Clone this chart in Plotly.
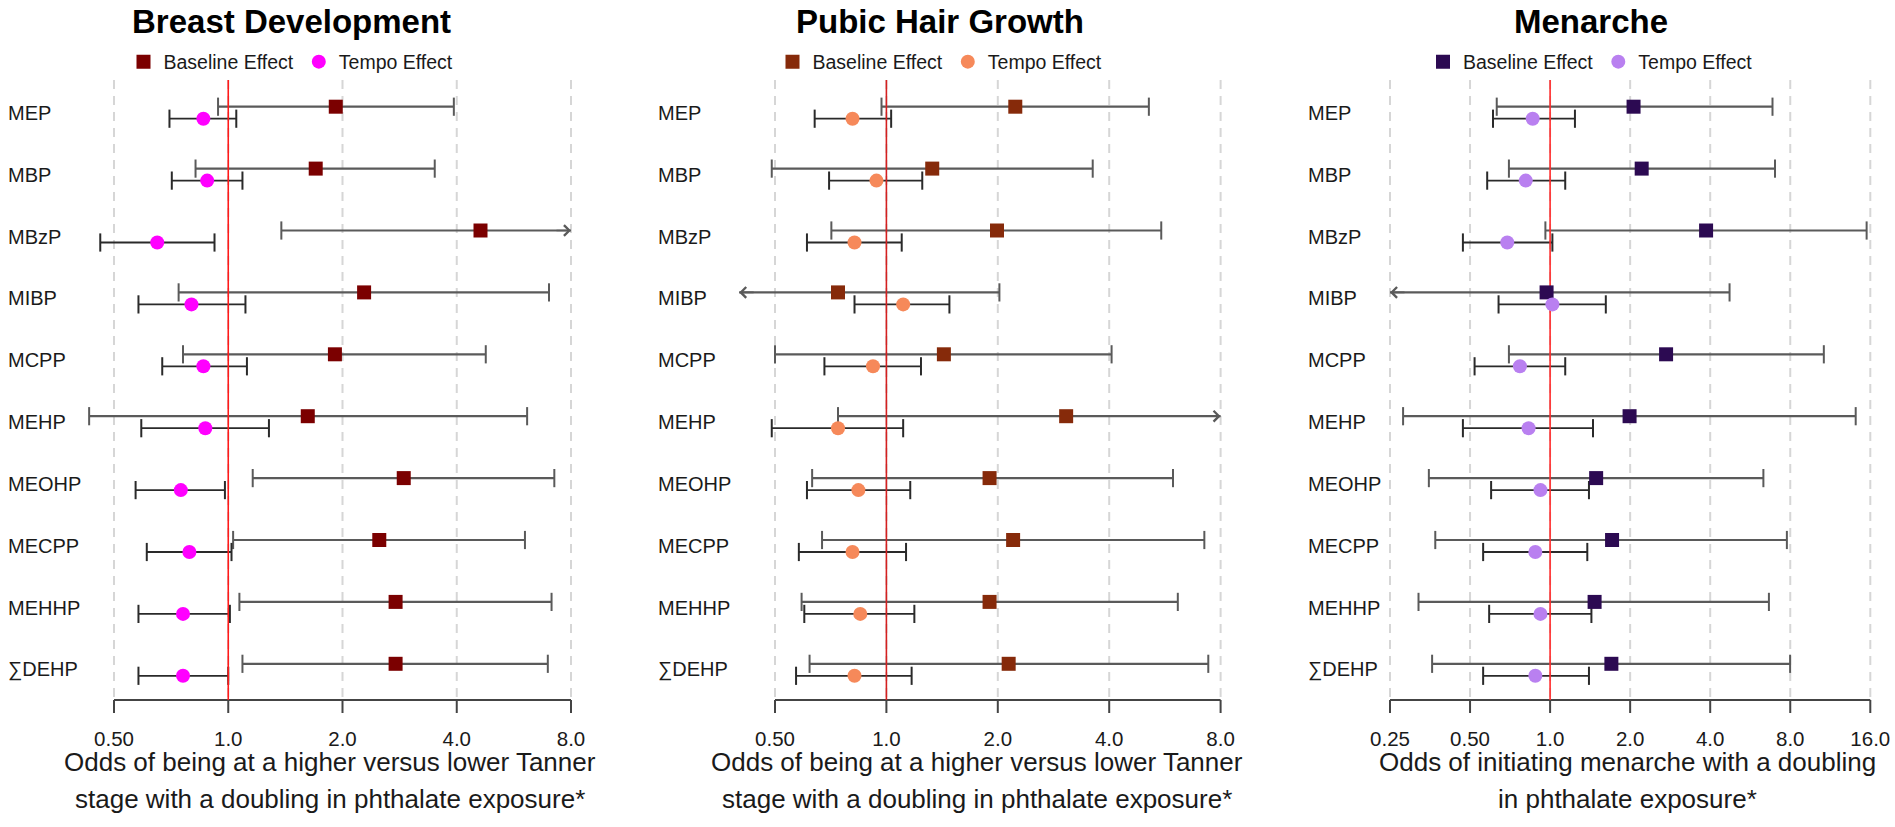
import math
import plotly.graph_objects as go

# ---------------- data ----------------
exposures = ["MEP", "MBP", "MBzP", "MIBP", "MCPP", "MEHP", "MEOHP", "MECPP", "MEHHP", "∑DEHP"]

# Breast development
breast_base_or = [1.92, 1.70, 4.62, 2.28, 1.91, 1.62, 2.90, 2.50, 2.76, 2.76]
breast_base_lo = [0.94, 0.82, 1.38, 0.74, 0.76, 0.43, 1.16, 1.03, 1.07, 1.09]
breast_base_hi = [3.93, 3.50, 9.50, 7.00, 4.77, 6.13, 7.23, 6.05, 7.11, 6.95]
breast_tempo_or = [0.86, 0.88, 0.65, 0.80, 0.86, 0.87, 0.75, 0.79, 0.76, 0.76]
breast_tempo_lo = [0.70, 0.71, 0.46, 0.58, 0.67, 0.59, 0.57, 0.61, 0.58, 0.58]
breast_tempo_hi = [1.05, 1.09, 0.92, 1.11, 1.12, 1.28, 0.98, 1.02, 1.01, 1.00]

# Pubic hair growth
pubic_base_or = [2.23, 1.33, 1.99, 0.74, 1.43, 3.06, 1.90, 2.20, 1.90, 2.14]
pubic_base_lo = [0.97, 0.49, 0.71, 0.35, 0.50, 0.74, 0.63, 0.67, 0.59, 0.62]
pubic_base_hi = [5.12, 3.61, 5.53, 2.02, 4.06, 9.00, 5.95, 7.23, 6.13, 7.41]
pubic_tempo_or = [0.81, 0.94, 0.82, 1.11, 0.92, 0.74, 0.84, 0.81, 0.85, 0.82]
pubic_tempo_lo = [0.64, 0.70, 0.61, 0.82, 0.68, 0.49, 0.61, 0.58, 0.60, 0.57]
pubic_tempo_hi = [1.03, 1.25, 1.10, 1.48, 1.24, 1.11, 1.16, 1.13, 1.19, 1.17]

# Menarche
men_base_or = [2.06, 2.21, 3.86, 0.97, 2.73, 1.99, 1.49, 1.71, 1.47, 1.70]
men_base_lo = [0.63, 0.70, 0.96, 0.20, 0.70, 0.28, 0.35, 0.37, 0.32, 0.36]
men_base_hi = [6.86, 7.01, 15.5, 4.73, 10.7, 14.1, 6.34, 7.77, 6.65, 7.99]
men_tempo_or = [0.86, 0.81, 0.69, 1.02, 0.77, 0.83, 0.92, 0.88, 0.92, 0.88]
men_tempo_lo = [0.61, 0.58, 0.47, 0.64, 0.52, 0.47, 0.60, 0.56, 0.59, 0.56]
men_tempo_hi = [1.24, 1.14, 1.02, 1.62, 1.14, 1.45, 1.40, 1.38, 1.43, 1.40]

tanner_ticks = [0.5, 1.0, 2.0, 4.0, 8.0]
tanner_ticktext = ["0.50", "1.0", "2.0", "4.0", "8.0"]
men_ticks = [0.25, 0.5, 1.0, 2.0, 4.0, 8.0, 16.0]
men_ticktext = ["0.25", "0.50", "1.0", "2.0", "4.0", "8.0", "16.0"]

ref_value = 1.0
legend_names = ["Baseline Effect", "Tempo Effect"]

# ---------------- layout helpers ----------------
W, H = 1895, 827
FONT = "Liberation Sans, Arial, sans-serif"
ROW0_PX, ROW_STEP = 112.7, 61.9
OFF = 6.0 / ROW_STEP
DOM_TOP_PX, DOM_BOT_PX = 78, 716
AXIS_PX, TICK_PX, GRID_TOP_PX = 700, 713, 80


def yval(p):
    return (p - ROW0_PX) / ROW_STEP


def py(p):
    return 1 - p / H


panels = [
    dict(title="Breast Development",
         base=(breast_base_or, breast_base_lo, breast_base_hi),
         tempo=(breast_tempo_or, breast_tempo_lo, breast_tempo_hi),
         c_base="#7b0000", c_tempo="#ff00ff", c_ref="#ff1a1a",
         ticks=tanner_ticks, ticktext=tanner_ticktext,
         first_px=114.0, last_px=571.0, pad=(45, 40), clip=(0.40, 8.0),
         label_px=5.7, center_px=291, xt_px=330,
         xtitle=["Odds of being at a higher versus lower Tanner",
                 "stage with a doubling in phthalate exposure*"]),
    dict(title="Pubic Hair Growth",
         base=(pubic_base_or, pubic_base_lo, pubic_base_hi),
         tempo=(pubic_tempo_or, pubic_tempo_lo, pubic_tempo_hi),
         c_base="#862a0a", c_tempo="#f6895a", c_ref="#d42020",
         ticks=tanner_ticks, ticktext=tanner_ticktext,
         first_px=775.0, last_px=1220.6, pad=(45, 40), clip=(0.40, 8.0),
         label_px=655.6, center_px=940, xt_px=977,
         xtitle=["Odds of being at a higher versus lower Tanner",
                 "stage with a doubling in phthalate exposure*"]),
    dict(title="Menarche",
         base=(men_base_or, men_base_lo, men_base_hi),
         tempo=(men_tempo_or, men_tempo_lo, men_tempo_hi),
         c_base="#2c0a52", c_tempo="#b980f0", c_ref="#ff2a2a",
         ticks=men_ticks, ticktext=men_ticktext,
         first_px=1390.0, last_px=1870.3, pad=(40, 20), clip=(0.25, 16.0),
         label_px=1306, center_px=1590.5, xt_px=1627,
         xtitle=["Odds of initiating menarche with a doubling",
                 "in phthalate exposure*"]),
]

fig = go.Figure()
annotations = []
layout = dict(
    width=W, height=H, margin=dict(l=0, r=0, t=0, b=0),
    paper_bgcolor="white", plot_bgcolor="white",
    font=dict(family=FONT, color="#1a1a1a"),
    showlegend=True,
)

rows = list(range(len(exposures)))
Y_AXIS, Y_TICK, Y_TOP = yval(AXIS_PX), yval(TICK_PX), yval(GRID_TOP_PX)

for n, p in enumerate(panels, start=1):
    sfx = "" if n == 1 else str(n)
    xa, ya = "x" + sfx, "y" + sfx
    t0, t1 = p["ticks"][0], p["ticks"][-1]
    l0, l1 = math.log10(t0), math.log10(t1)
    ppu = (p["last_px"] - p["first_px"]) / (l1 - l0)
    pl, pr = p["pad"]
    dom_l, dom_r = p["first_px"] - pl, p["last_px"] + pr
    layout["xaxis" + sfx] = dict(
        type="log", domain=[dom_l / W, min(dom_r / W, 1.0)],
        range=[l0 - pl / ppu, l1 + pr / ppu], anchor=ya,
        tickvals=p["ticks"], ticktext=p["ticktext"], ticks="",
        showgrid=False, zeroline=False, showline=False,
        tickfont=dict(size=20.5, color="#1a1a1a", family=FONT),
        ticklabelstandoff=8,
    )
    layout["yaxis" + sfx] = dict(
        domain=[py(DOM_BOT_PX), py(DOM_TOP_PX)], anchor=xa,
        range=[yval(DOM_BOT_PX), yval(DOM_TOP_PX)],
        showgrid=False, zeroline=False, showline=False,
        showticklabels=False, ticks="",
    )

    # grid lines
    gx, gy = [], []
    for t in p["ticks"]:
        gx += [t, t, None]
        gy += [Y_TOP, Y_AXIS, None]
    fig.add_trace(go.Scatter(x=gx, y=gy, mode="lines", xaxis=xa, yaxis=ya,
                             line=dict(color="#d6d6d6", width=2, dash="9px,7px"),
                             showlegend=False, hoverinfo="skip"))
    # axis line and ticks
    fig.add_trace(go.Scatter(x=[t0, t1], y=[Y_AXIS, Y_AXIS], mode="lines",
                             xaxis=xa, yaxis=ya, line=dict(color="#444444", width=2),
                             showlegend=False, hoverinfo="skip"))
    tx, ty = [], []
    for t in p["ticks"]:
        tx += [t, t, None]
        ty += [Y_AXIS, Y_TICK, None]
    fig.add_trace(go.Scatter(x=tx, y=ty, mode="lines", xaxis=xa, yaxis=ya,
                             line=dict(color="#444444", width=2),
                             showlegend=False, hoverinfo="skip"))

    clip_lo, clip_hi = p["clip"]
    series = [(p["base"], -OFF, "#5a5a5a", 2.2), (p["tempo"], OFF, "#2a2a2a", 1.8)]
    for (ors, los, his), dy, ccol, cw in series:
        lx, ly, cx, cy = [], [], [], []
        for i in rows:
            yy = i + dy
            lo, hi = los[i], his[i]
            a, b = max(lo, clip_lo), min(hi, clip_hi)
            lx += [a, b, None]
            ly += [yy, yy, None]
            if lo >= clip_lo:
                cx.append(lo); cy.append(yy)
            else:
                annotations.append(dict(
                    x=math.log10(clip_lo), y=yy, xref=xa, yref=ya, text="",
                    showarrow=True, ax=16, ay=0, arrowhead=4, arrowsize=1.3,
                    arrowwidth=1.6, arrowcolor=ccol, standoff=0))
            if hi <= clip_hi:
                cx.append(hi); cy.append(yy)
            else:
                annotations.append(dict(
                    x=math.log10(clip_hi), y=yy, xref=xa, yref=ya, text="",
                    showarrow=True, ax=-16, ay=0, arrowhead=4, arrowsize=1.3,
                    arrowwidth=1.6, arrowcolor=ccol, standoff=0))
        fig.add_trace(go.Scatter(x=lx, y=ly, mode="lines", xaxis=xa, yaxis=ya,
                                 line=dict(color=ccol, width=cw),
                                 showlegend=False, hoverinfo="skip"))
        fig.add_trace(go.Scatter(x=cx, y=cy, mode="markers", xaxis=xa, yaxis=ya,
                                 marker=dict(symbol="line-ns", size=13,
                                             line=dict(color=ccol, width=2)),
                                 cliponaxis=False, showlegend=False, hoverinfo="skip"))

    # reference line at OR = 1
    fig.add_trace(go.Scatter(x=[ref_value, ref_value], y=[Y_TOP, Y_AXIS], mode="lines",
                             xaxis=xa, yaxis=ya, line=dict(color=p["c_ref"], width=1.6),
                             showlegend=False, hoverinfo="skip"))

    # point estimates
    leg = "legend" + sfx
    fig.add_trace(go.Scatter(x=p["base"][0], y=[i - OFF for i in rows], mode="markers",
                             xaxis=xa, yaxis=ya, name=legend_names[0], legend=leg,
                             marker=dict(symbol="square", size=14, color=p["c_base"]),
                             cliponaxis=False))
    fig.add_trace(go.Scatter(x=p["tempo"][0], y=[i + OFF for i in rows], mode="markers",
                             xaxis=xa, yaxis=ya, name=legend_names[1], legend=leg,
                             marker=dict(symbol="circle", size=14, color=p["c_tempo"]),
                             cliponaxis=False))

    layout[leg] = dict(
        x=p["center_px"] / W, xanchor="center", y=py(62), yanchor="middle",
        orientation="h", bgcolor="rgba(0,0,0,0)", itemwidth=30,
        font=dict(size=19.5, family=FONT, color="#1a1a1a"), traceorder="normal",
        itemclick=False, itemdoubleclick=False,
    )

    # exposure labels
    for i, name in enumerate(exposures):
        annotations.append(dict(
            x=p["label_px"] / W, xref="paper", y=i, yref=ya, text=name,
            showarrow=False, xanchor="left", yanchor="middle",
            font=dict(size=20, family=FONT, color="#1a1a1a")))

    # panel title
    annotations.append(dict(
        x=p["center_px"] / W, xref="paper", y=py(21), yref="paper",
        text="<b>" + p["title"] + "</b>", showarrow=False,
        xanchor="center", yanchor="middle",
        font=dict(size=33, family=FONT, color="#000000")))

    # x-axis title (two lines)
    for k, line in enumerate(p["xtitle"]):
        annotations.append(dict(
            x=p["xt_px"] / W, xref="paper", y=py(762 + 37 * k), yref="paper",
            text=line, showarrow=False, xanchor="center", yanchor="middle",
            font=dict(size=26, family=FONT, color="#1a1a1a")))

layout["annotations"] = annotations
fig.update_layout(**layout)
fig.write_html(
    "out.html",
    config={"displayModeBar": False},
    post_script="document.body.style.margin='0';document.body.style.overflow='hidden';",
)
